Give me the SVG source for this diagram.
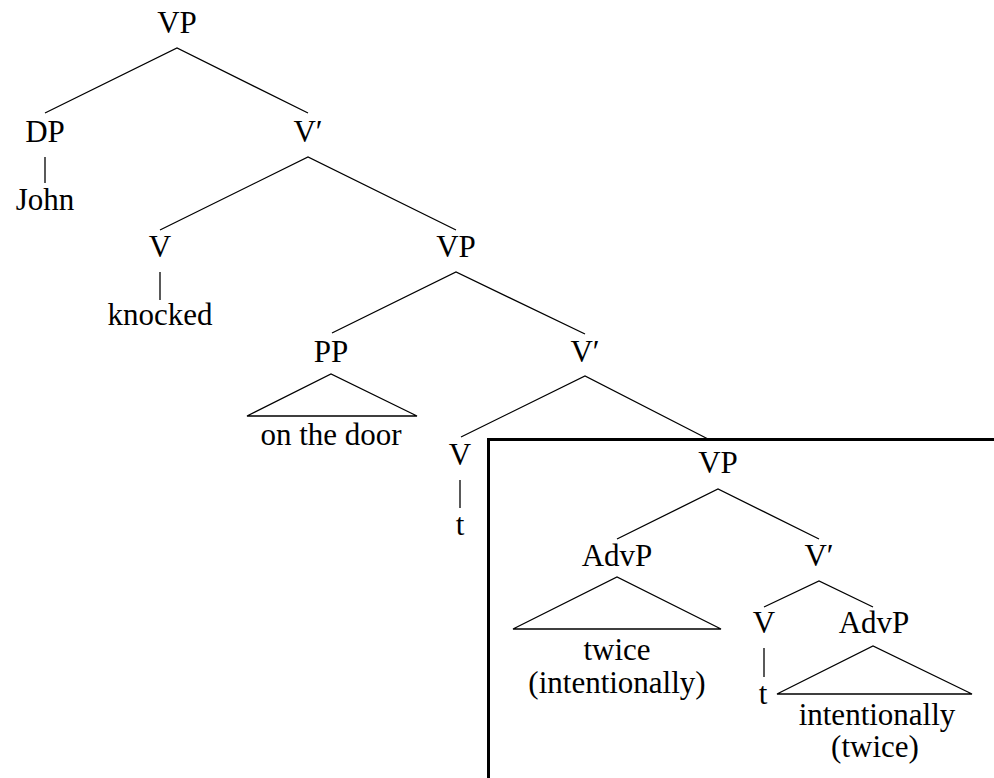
<svg xmlns="http://www.w3.org/2000/svg" width="994" height="778" viewBox="0 0 994 778">
<style>
.e{stroke:#000;stroke-width:1.3;fill:none}
.box{stroke:#000;stroke-width:3;fill:none}
</style>
<rect width="994" height="778" fill="#fff"/>
<g id="connectors">
<path class="e" d="M45,113 L177,48 L308,113"/>
<path class="e" d="M45,157 L45,183"/>
<path class="e" d="M160,230 L308,157 L456,230"/>
<path class="e" d="M160,272 L160,300"/>
<path class="e" d="M332,333 L456,272 L585,334"/>
<path class="e" d="M247,416 L331,374 L417,416 Z"/>
<path class="e" d="M461,437 L585,376 L708,439"/>
<path class="e" d="M460,480 L460,508"/>
<path class="e" d="M617,539 L718,489 L819,539"/>
<path class="e" d="M513,629 L617,577 L721,629 Z"/>
<path class="e" d="M764,607 L819,581 L873,607"/>
<path class="e" d="M764,648 L764,677"/>
<path class="e" d="M777,694 L873,646 L972,694 Z"/>
</g>
<g id="box"><path class="box" d="M994,439.5 L488.5,439.5 L488.5,778"/></g>
<g id="labels" font-family="'Liberation Serif','DejaVu Serif',serif" font-size="31" text-anchor="middle" fill="#000">
<g id="vp1"><text x="177" y="33">VP</text></g>
<g id="dp"><text x="45" y="142">DP</text></g>
<g id="john"><text x="45" y="210">John</text></g>
<g id="vbar1"><text x="308" y="142">V′</text></g>
<g id="v1"><text x="160" y="257">V</text></g>
<g id="knocked"><text x="160" y="325">knocked</text></g>
<g id="vp2"><text x="456" y="257">VP</text></g>
<g id="pp"><text x="331" y="362">PP</text></g>
<g id="onthedoor"><text x="331" y="445">on the door</text></g>
<g id="vbar2"><text x="585" y="362">V′</text></g>
<g id="v2"><text x="460" y="465">V</text></g>
<g id="t1"><text x="460" y="535">t</text></g>
<g id="vp3"><text x="718" y="473">VP</text></g>
<g id="advp1"><text x="617" y="566">AdvP</text></g>
<g id="twice1"><text x="617" y="660">twice</text><text x="617" y="693">(intentionally)</text></g>
<g id="vbar3"><text x="819" y="566">V′</text></g>
<g id="v3"><text x="764" y="633">V</text></g>
<g id="t2"><text x="763" y="704">t</text></g>
<g id="advp2"><text x="874" y="633">AdvP</text></g>
<g id="intent2"><text x="877" y="725">intentionally</text><text x="875" y="757">(twice)</text></g>
</g>
</svg>
